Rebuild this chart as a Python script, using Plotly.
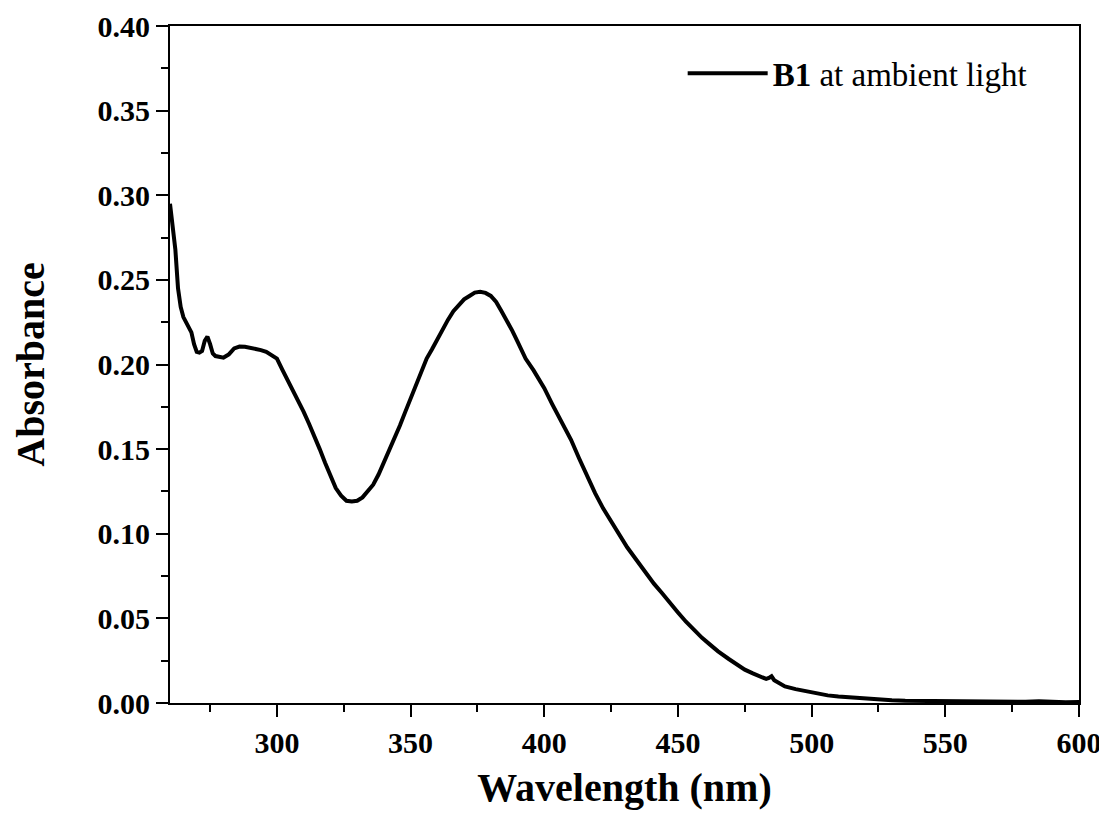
import plotly.graph_objects as go

wavelength = [260, 261, 262, 263, 264, 265, 266, 267, 268, 269, 270, 271, 272, 273, 274, 275, 276, 277, 278, 279,
              280, 281, 282, 284, 286, 288, 290, 292, 294, 296, 298, 299, 300, 302, 304, 306, 308, 310, 312, 314,
              316, 318, 320, 322, 324, 326, 328, 330, 332, 334, 336, 338, 340, 342, 344, 346, 348, 350, 352, 354,
              356, 358, 360, 362, 364, 366, 368, 370, 372, 374, 376, 378, 380, 382, 384, 386, 388, 390, 393, 396,
              400, 403, 406, 410, 413, 416, 419, 422, 425, 428, 431, 434, 438, 441, 444, 447, 450, 453, 456, 459,
              462, 465, 469, 472, 475, 478, 481, 483, 484, 485, 486, 488, 490, 494, 498, 502, 506, 510, 514, 518,
              522, 526, 530, 535, 540, 545, 550, 555, 560, 565, 570, 575, 580, 585, 590, 595, 600]

absorbance = [0.295, 0.280, 0.268, 0.245, 0.234, 0.228, 0.225, 0.223, 0.219, 0.212, 0.2075, 0.207, 0.208, 0.214, 0.2165,
              0.212, 0.2065, 0.205, 0.2045, 0.204, 0.204, 0.205, 0.206, 0.2095, 0.2106, 0.2105, 0.2100, 0.2090, 0.2085,
              0.2075, 0.2055, 0.2045, 0.2035, 0.197, 0.191, 0.185, 0.179, 0.172, 0.165, 0.158, 0.150, 0.142, 0.134,
              0.127, 0.1225, 0.1195, 0.119, 0.1195, 0.1215, 0.125, 0.129, 0.135, 0.142, 0.149, 0.156, 0.164, 0.172,
              0.180, 0.188, 0.195, 0.2035, 0.209, 0.215, 0.2205, 0.2265, 0.2315, 0.235, 0.2385, 0.2405, 0.2425, 0.243,
              0.2423, 0.2405, 0.237, 0.2315, 0.226, 0.220, 0.2135, 0.2035, 0.1965, 0.186, 0.1765, 0.168, 0.1555,
              0.1446, 0.134, 0.124, 0.115, 0.107, 0.099, 0.092, 0.0855, 0.0767, 0.0705, 0.065, 0.059, 0.0535, 0.048,
              0.043, 0.0385, 0.0345, 0.0305, 0.026, 0.0228, 0.0197, 0.0175, 0.0155, 0.0142, 0.0148, 0.0158, 0.0135,
              0.0115, 0.0098, 0.0082, 0.0070, 0.0055, 0.0045, 0.0038, 0.0033, 0.0028, 0.0023, 0.0019, 0.0016, 0.0013,
              0.0012, 0.0010, 0.0013, 0.0009, 0.0011, 0.0007, 0.0008, 0.0006, 0.0007, 0.0010, 0.0006, 0.0005, 0.0006]

x_ticks = [300, 350, 400, 450, 500, 550, 600]
y_ticks = [0.00, 0.05, 0.10, 0.15, 0.20, 0.25, 0.30, 0.35, 0.40]

FONT = "Liberation Serif"

fig = go.Figure()
fig.add_trace(go.Scatter(
    x=wavelength, y=absorbance, mode="lines",
    line=dict(color="black", width=4),
    name="<b>B1</b> at ambient light",
))

axis_common = dict(
    showline=True, linecolor="black", linewidth=2, mirror=True,
    ticks="outside", ticklen=12, tickwidth=2, tickcolor="black",
    showgrid=False, zeroline=False, automargin=False,
    tickfont=dict(family=FONT, size=30, color="black", weight="bold"),
)

fig.update_xaxes(
    range=[260, 600], tickvals=x_ticks,
    minor=dict(ticks="outside", ticklen=7, tickwidth=2, tickcolor="black", dtick=25, tick0=250),
    title=dict(text="Wavelength (nm)", font=dict(family=FONT, size=40, color="black", weight="bold"), standoff=15),
    **axis_common,
)
fig.update_yaxes(
    range=[0, 0.40], tickvals=y_ticks, tickformat=".2f",
    minor=dict(ticks="outside", ticklen=7, tickwidth=2, tickcolor="black", dtick=0.025, tick0=0),
    title=dict(text="Absorbance", font=dict(family=FONT, size=40, color="black", weight="bold"), standoff=44),
    **axis_common,
)

fig.update_layout(
    width=1099, height=807,
    margin=dict(l=162, r=28, t=18, b=112),
    paper_bgcolor="white", plot_bgcolor="white",
    showlegend=True,
    legend=dict(x=0.564, y=0.93, xanchor="left", yanchor="middle", itemwidth=80,
                font=dict(family=FONT, size=33, color="black"),
                bgcolor="rgba(0,0,0,0)"),
)

fig.write_html("out.html")
